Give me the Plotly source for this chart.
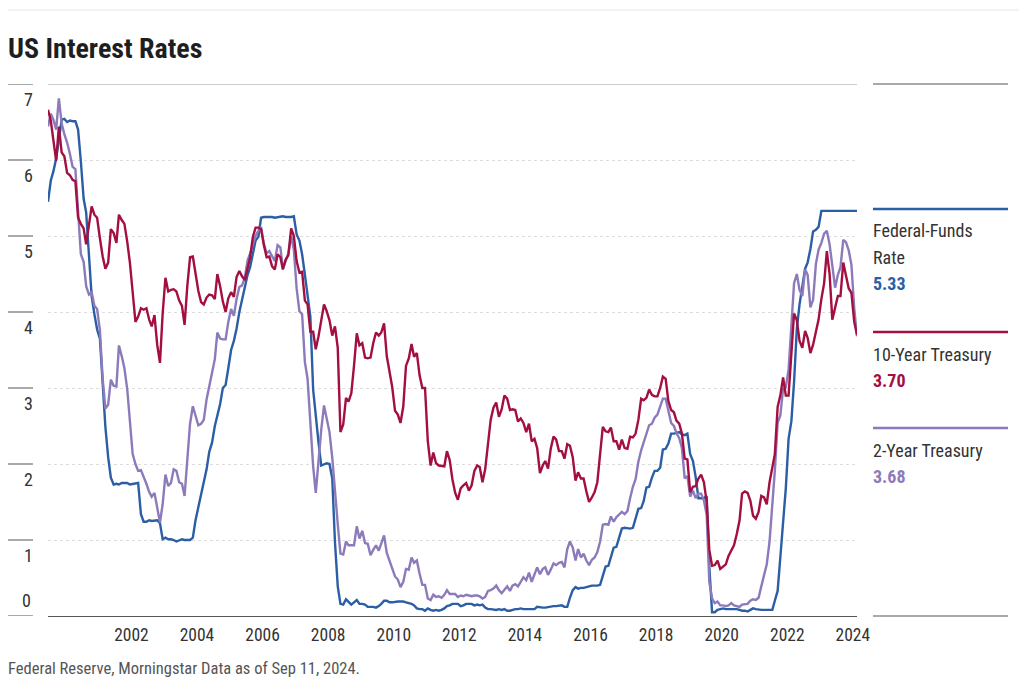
import pandas as pd
import plotly.graph_objects as go

# ---------------- data (monthly, Jan 2000 - Sep 2024) ----------------
start_month = "2000-01-01"

fed_funds = [
    5.45, 5.73, 5.85, 6.02, 6.27, 6.53, 6.54, 6.50, 6.52, 6.51, 6.51, 6.40,
    5.98, 5.49, 5.31, 4.80, 4.21, 3.97, 3.77, 3.65, 3.07, 2.49, 2.09, 1.82,
    1.73, 1.74, 1.73, 1.75, 1.75, 1.75, 1.73, 1.74, 1.75, 1.75, 1.34, 1.24,
    1.24, 1.26, 1.25, 1.26, 1.26, 1.22, 1.01, 1.03, 1.01, 1.01, 1.00, 0.98,
    1.00, 1.01, 1.00, 1.00, 1.00, 1.03, 1.26, 1.43, 1.61, 1.76, 1.93, 2.16,
    2.28, 2.50, 2.63, 2.79, 3.00, 3.04, 3.26, 3.50, 3.62, 3.78, 4.00, 4.16,
    4.29, 4.49, 4.59, 4.79, 4.94, 4.99, 5.24, 5.25, 5.25, 5.25, 5.25, 5.24,
    5.25, 5.26, 5.26, 5.25, 5.25, 5.25, 5.26, 5.02, 4.94, 4.76, 4.49, 4.24,
    3.94, 2.98, 2.61, 2.28, 1.98, 2.00, 2.01, 2.00, 1.81, 0.97, 0.39, 0.16,
    0.15, 0.22, 0.18, 0.15, 0.18, 0.21, 0.16, 0.16, 0.15, 0.12, 0.12, 0.12,
    0.11, 0.13, 0.16, 0.20, 0.20, 0.18, 0.18, 0.19, 0.19, 0.19, 0.19, 0.18,
    0.17, 0.16, 0.14, 0.10, 0.09, 0.09, 0.07, 0.10, 0.08, 0.07, 0.08, 0.07,
    0.08, 0.10, 0.13, 0.14, 0.16, 0.16, 0.16, 0.13, 0.14, 0.16, 0.16, 0.16,
    0.14, 0.15, 0.14, 0.15, 0.11, 0.09, 0.09, 0.08, 0.08, 0.09, 0.08, 0.09,
    0.07, 0.07, 0.08, 0.09, 0.09, 0.10, 0.09, 0.09, 0.09, 0.09, 0.09, 0.12,
    0.11, 0.11, 0.11, 0.12, 0.12, 0.13, 0.13, 0.14, 0.14, 0.12, 0.12, 0.24,
    0.34, 0.38, 0.36, 0.37, 0.37, 0.38, 0.39, 0.40, 0.40, 0.40, 0.41, 0.54,
    0.65, 0.66, 0.79, 0.90, 0.91, 1.04, 1.15, 1.16, 1.15, 1.15, 1.16, 1.30,
    1.41, 1.42, 1.51, 1.69, 1.70, 1.82, 1.91, 1.91, 1.95, 2.19, 2.20, 2.27,
    2.40, 2.40, 2.41, 2.42, 2.39, 2.38, 2.40, 2.13, 2.04, 1.83, 1.55, 1.55,
    1.55, 1.58, 0.65, 0.05, 0.05, 0.08, 0.09, 0.10, 0.09, 0.09, 0.09, 0.09,
    0.09, 0.08, 0.07, 0.07, 0.06, 0.08, 0.10, 0.09, 0.08, 0.08, 0.08, 0.08,
    0.08, 0.08, 0.20, 0.33, 0.77, 1.21, 1.68, 2.33, 2.56, 3.08, 3.78, 4.10,
    4.33, 4.57, 4.65, 4.83, 5.06, 5.08, 5.12, 5.33, 5.33, 5.33, 5.33, 5.33,
    5.33, 5.33, 5.33, 5.33, 5.33, 5.33, 5.33, 5.33, 5.33,
]

ten_year = [
    6.66, 6.52, 6.26, 5.99, 6.44, 6.10, 6.05, 5.83, 5.80, 5.74, 5.72, 5.24,
    5.16, 5.10, 4.89, 5.14, 5.39, 5.28, 5.24, 4.97, 4.73, 4.57, 4.65, 5.09,
    5.04, 4.91, 5.28, 5.21, 5.16, 4.93, 4.65, 4.26, 3.87, 3.94, 4.05, 4.03,
    4.05, 3.90, 3.81, 3.96, 3.57, 3.33, 3.98, 4.45, 4.27, 4.29, 4.30, 4.27,
    4.15, 4.08, 3.83, 4.35, 4.72, 4.73, 4.50, 4.28, 4.13, 4.10, 4.19, 4.23,
    4.22, 4.17, 4.50, 4.34, 4.14, 4.00, 4.18, 4.26, 4.20, 4.46, 4.54, 4.47,
    4.42, 4.57, 4.72, 4.99, 5.11, 5.11, 5.09, 4.88, 4.72, 4.73, 4.60, 4.56,
    4.76, 4.72, 4.56, 4.69, 4.75, 5.10, 5.00, 4.67, 4.52, 4.53, 4.15, 4.10,
    3.74, 3.74, 3.51, 3.68, 3.88, 4.10, 4.01, 3.89, 3.69, 3.81, 3.53, 2.42,
    2.52, 2.87, 2.82, 2.93, 3.29, 3.72, 3.56, 3.59, 3.40, 3.39, 3.40, 3.59,
    3.73, 3.69, 3.73, 3.85, 3.42, 3.20, 3.01, 2.70, 2.65, 2.54, 2.76, 3.29,
    3.39, 3.58, 3.41, 3.46, 3.17, 3.00, 3.00, 2.30, 1.98, 2.15, 2.01, 1.98,
    1.97, 1.97, 2.17, 2.05, 1.80, 1.62, 1.53, 1.68, 1.72, 1.75, 1.65, 1.72,
    1.91, 1.98, 1.96, 1.76, 1.93, 2.30, 2.58, 2.74, 2.81, 2.62, 2.72, 2.90,
    2.86, 2.71, 2.72, 2.71, 2.56, 2.60, 2.54, 2.42, 2.53, 2.30, 2.33, 2.21,
    1.88, 1.98, 2.04, 1.94, 2.20, 2.36, 2.32, 2.17, 2.17, 2.07, 2.26, 2.24,
    2.09, 1.78, 1.89, 1.81, 1.81, 1.64, 1.50, 1.56, 1.63, 1.76, 2.14, 2.49,
    2.43, 2.42, 2.48, 2.30, 2.30, 2.19, 2.32, 2.21, 2.20, 2.36, 2.35, 2.40,
    2.58, 2.86, 2.84, 2.87, 2.98, 2.91, 2.89, 2.89, 3.00, 3.15, 3.12, 2.83,
    2.71, 2.68, 2.57, 2.53, 2.40, 2.07, 2.06, 1.63, 1.70, 1.71, 1.81, 1.86,
    1.76, 1.50, 0.87, 0.66, 0.67, 0.73, 0.62, 0.65, 0.68, 0.79, 0.87, 0.93,
    1.08, 1.26, 1.61, 1.64, 1.62, 1.52, 1.32, 1.28, 1.37, 1.58, 1.56, 1.47,
    1.76, 1.93, 2.13, 2.75, 2.90, 3.14, 2.90, 2.90, 3.52, 3.98, 3.89, 3.62,
    3.53, 3.75, 3.66, 3.46, 3.57, 3.75, 3.90, 4.17, 4.38, 4.80, 4.50, 3.90,
    4.06, 4.21, 4.21, 4.65, 4.48, 4.31, 4.25, 3.87, 3.70,
]

two_year = [
    6.44, 6.61, 6.53, 6.40, 6.81, 6.48, 6.34, 6.23, 6.08, 5.91, 5.88, 5.35,
    4.76, 4.66, 4.34, 4.23, 4.26, 4.08, 4.04, 3.76, 3.12, 2.73, 2.78, 3.11,
    3.03, 3.02, 3.56, 3.42, 3.26, 2.99, 2.56, 2.13, 2.00, 1.91, 1.92, 1.84,
    1.74, 1.63, 1.57, 1.62, 1.42, 1.23, 1.47, 1.86, 1.71, 1.75, 1.93, 1.91,
    1.76, 1.74, 1.58, 2.07, 2.53, 2.76, 2.64, 2.51, 2.53, 2.58, 2.85, 3.01,
    3.22, 3.38, 3.73, 3.65, 3.64, 3.64, 3.87, 4.04, 3.95, 4.17, 4.33, 4.35,
    4.45, 4.68, 4.77, 4.90, 5.00, 5.07, 5.12, 4.90, 4.77, 4.80, 4.74, 4.67,
    4.88, 4.85, 4.57, 4.67, 4.77, 5.00, 4.82, 4.31, 4.01, 3.97, 3.34, 3.12,
    2.48, 1.97, 1.62, 2.05, 2.45, 2.77, 2.57, 2.42, 2.08, 1.61, 1.21, 0.82,
    0.81, 0.98, 0.93, 0.93, 0.93, 1.18, 1.02, 1.12, 0.96, 0.95, 0.80, 0.87,
    0.93, 0.86, 0.96, 1.06, 0.83, 0.72, 0.62, 0.52, 0.48, 0.38, 0.45, 0.62,
    0.61, 0.77, 0.70, 0.73, 0.56, 0.41, 0.41, 0.23, 0.21, 0.28, 0.25, 0.26,
    0.24, 0.28, 0.34, 0.29, 0.29, 0.29, 0.25, 0.27, 0.26, 0.28, 0.27, 0.26,
    0.27, 0.27, 0.26, 0.23, 0.25, 0.33, 0.34, 0.36, 0.40, 0.34, 0.30, 0.34,
    0.39, 0.33, 0.40, 0.42, 0.39, 0.45, 0.51, 0.47, 0.57, 0.45, 0.54, 0.64,
    0.55, 0.62, 0.64, 0.54, 0.61, 0.69, 0.67, 0.70, 0.71, 0.64, 0.88, 0.98,
    0.90, 0.73, 0.88, 0.77, 0.82, 0.73, 0.67, 0.74, 0.77, 0.84, 0.98, 1.20,
    1.21, 1.20, 1.31, 1.24, 1.30, 1.34, 1.37, 1.34, 1.38, 1.55, 1.70, 1.80,
    2.03, 2.18, 2.28, 2.38, 2.51, 2.53, 2.61, 2.65, 2.77, 2.86, 2.86, 2.68,
    2.54, 2.50, 2.41, 2.34, 2.21, 1.81, 1.84, 1.57, 1.65, 1.55, 1.61, 1.61,
    1.52, 1.33, 0.45, 0.23, 0.17, 0.19, 0.14, 0.14, 0.13, 0.14, 0.17, 0.14,
    0.13, 0.12, 0.15, 0.16, 0.16, 0.20, 0.22, 0.21, 0.24, 0.39, 0.52, 0.68,
    0.98, 1.44, 1.91, 2.54, 2.64, 2.99, 3.01, 3.24, 3.86, 4.38, 4.50, 4.29,
    4.21, 4.56, 4.49, 4.06, 4.16, 4.63, 4.82, 4.91, 5.03, 5.07, 4.89, 4.60,
    4.32, 4.49, 4.59, 4.95, 4.92, 4.81, 4.62, 4.05, 3.68,
]

series_labels = [["Federal-Funds", "Rate"], ["10-Year Treasury"], ["2-Year Treasury"]]
latest_values = ["5.33", "3.70", "3.68"]
y_tick_values = [0, 1, 2, 3, 4, 5, 6, 7]
x_tick_years = [2002, 2004, 2006, 2008, 2010, 2012, 2014, 2016, 2018, 2020, 2022, 2024]

title_text = "US Interest Rates"
source_text = "Federal Reserve, Morningstar Data as of Sep 11, 2024."

# ---------------- styling ----------------
BLUE = "#2b5ea5"
RED = "#a20f40"
PURPLE = "#8c7aba"
FONT = "Roboto Condensed, Roboto, sans-serif"

OFF = 8                       # page body margin in the screenshot
W, H = 1027 - OFF, 690 - OFF  # figure size
L, R, T, B = 48, 857, 84, 616  # plot area, screen pixels
PW, PH = R - L, B - T


def px_x(sx):
    return (sx - L) / PW


def px_y(sy):
    return (B - sy) / PH


dates = pd.date_range(start_month, periods=len(fed_funds), freq="MS")

fig = go.Figure()
for values, color, name in [
    (fed_funds, BLUE, "Federal-Funds Rate"),
    (two_year, PURPLE, "2-Year Treasury"),
    (ten_year, RED, "10-Year Treasury"),
]:
    fig.add_trace(go.Scatter(
        x=dates, y=values, mode="lines", name=name,
        line=dict(color=color, width=2.4), showlegend=False,
    ))

shapes = []
shapes.append(dict(type="line", xref="paper", yref="y", x0=0, x1=1, y0=7, y1=7,
                   line=dict(color="#9a9a9a", width=1)))
shapes.append(dict(type="line", xref="paper", yref="paper", x0=px_x(873), x1=px_x(1008),
                   y0=px_y(84), y1=px_y(84), line=dict(color="#555555", width=1.2)))
shapes.append(dict(type="line", xref="paper", yref="paper", x0=px_x(873), x1=px_x(1008),
                   y0=px_y(616), y1=px_y(616), line=dict(color="#555555", width=1.2)))
shapes.append(dict(type="line", xref="paper", yref="paper", x0=px_x(8), x1=px_x(1019),
                   y0=px_y(10), y1=px_y(10), line=dict(color="#e6e6e6", width=1)))
for v in y_tick_values:
    shapes.append(dict(type="line", xref="paper", yref="y", x0=px_x(8), x1=px_x(33),
                       y0=v, y1=v, line=dict(color="#555555", width=1)))

annotations = []
annotations.append(dict(text="0", xref="paper", yref="y", x=px_x(33), y=0, yshift=16,
                        xanchor="right", yanchor="middle", showarrow=False,
                        font=dict(family=FONT, size=18, color="#333333")))

legend_colors = [BLUE, RED, PURPLE]
legend_line_y = [209, 332, 428]
for labels, val, color, ly in zip(series_labels, latest_values, legend_colors, legend_line_y):
    shapes.append(dict(type="line", xref="paper", yref="paper", x0=px_x(873), x1=px_x(1008),
                       y0=px_y(ly), y1=px_y(ly), line=dict(color=color, width=2.4)))
    ty = ly + 22
    for lab in labels:
        annotations.append(dict(text=lab, xref="paper", yref="paper", x=px_x(871), y=px_y(ty),
                                xanchor="left", yanchor="middle", showarrow=False,
                                font=dict(family=FONT, size=18, color="#333333")))
        ty += 26
    annotations.append(dict(text="<b>" + val + "</b>", xref="paper", yref="paper",
                            x=px_x(871), y=px_y(ty), xanchor="left", yanchor="middle",
                            showarrow=False, font=dict(family=FONT, size=18, color=color)))

annotations.append(dict(text=source_text, xref="paper", yref="paper", x=px_x(6), y=px_y(668),
                        xanchor="left", yanchor="middle", showarrow=False,
                        font=dict(family=FONT, size=16.5, color="#555555")))

fig.update_layout(
    width=W, height=H,
    margin=dict(l=L - OFF, r=W - (R - OFF), t=T - OFF, b=H - (B - OFF), autoexpand=False),
    paper_bgcolor="white", plot_bgcolor="white",
    title=dict(text="<b>" + title_text + "</b>", x=0, xanchor="left", xref="container",
               y=1 - (48 - OFF) / H, yanchor="middle", yref="container",
               font=dict(family=FONT, size=28, color="#1e1e1e")),
    xaxis=dict(
        type="date", range=[dates[0], dates[-1]], automargin=False,
        tickvals=[f"{y}-01-01" for y in x_tick_years], ticktext=[str(y) for y in x_tick_years],
        ticklabelposition="outside right", ticks="", ticklabelstandoff=3,
        showgrid=False, zeroline=False, showline=True, linecolor="#555555", linewidth=1,
        tickfont=dict(family=FONT, size=17.5, color="#333333"), fixedrange=True,
    ),
    yaxis=dict(
        range=[0, 7], tickvals=y_tick_values[1:], ticktext=[str(v) for v in y_tick_values[1:]],
        automargin=False,
        ticklabelposition="outside bottom", ticks="", ticklabelstandoff=14, ticklabelshift=3,
        showgrid=True, gridcolor="#dddddd", griddash="dot", gridwidth=1,
        zeroline=False, showline=False,
        tickfont=dict(family=FONT, size=18, color="#333333"), fixedrange=True,
    ),
    shapes=shapes, annotations=annotations,
)

fig.write_html("out.html")
